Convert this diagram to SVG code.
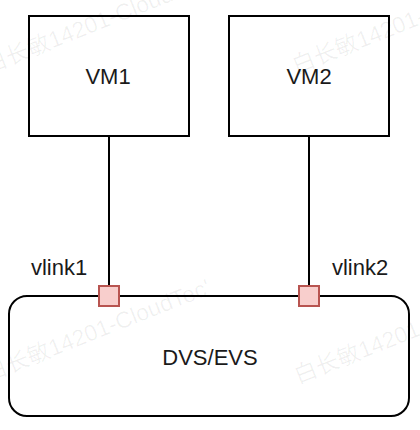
<svg xmlns="http://www.w3.org/2000/svg" width="420" height="430" viewBox="0 0 420 430">
<style>
.box{fill:#ffffff;stroke:#000000;stroke-width:2}
.lbl{font-family:"Liberation Sans",Arial,sans-serif;font-size:22px;fill:#1a1a1a}
.port{fill:#f8cecc;stroke:#b85450;stroke-width:2}
.wire{stroke:#000000;stroke-width:2;fill:none}
.wm{font-family:"Liberation Sans","Noto Sans CJK SC",sans-serif;font-size:23px;fill:#000000;fill-opacity:0.06}
</style>
<rect width="420" height="430" fill="#ffffff"/>
<g id="connectors">
<line class="wire" x1="109" y1="136" x2="109" y2="286"/>
<line class="wire" x1="309" y1="136" x2="309" y2="286"/>
</g>
<g id="dvs">
<rect class="box" x="9" y="296" width="400" height="120" rx="18" ry="18"/>
<text class="lbl" x="210" y="365" text-anchor="middle">DVS/EVS</text>
</g>
<g id="vm1">
<rect class="box" x="29" y="16" width="160" height="120"/>
<text class="lbl" x="108" y="84" text-anchor="middle">VM1</text>
</g>
<g id="vm2">
<rect class="box" x="229" y="16" width="160" height="120"/>
<text class="lbl" x="309" y="84" text-anchor="middle">VM2</text>
</g>
<g id="vlink1">
<rect class="port" x="99" y="286" width="20" height="20"/>
<text class="lbl" x="59" y="275" text-anchor="middle">vlink1</text>
</g>
<g id="vlink2">
<rect class="port" x="299" y="286" width="20" height="20"/>
<text class="lbl" x="360" y="275" text-anchor="middle">vlink2</text>
</g>
<g id="watermark">
<text class="wm" transform="translate(-12,74) rotate(-21.6)">白长敏14201-CloudTec'</text>
<text class="wm" transform="translate(296,74) rotate(-21.6)">白长敏14201-CloudTec'</text>
<text class="wm" transform="translate(-12,382) rotate(-21.6)">白长敏14201-CloudTec'</text>
<text class="wm" transform="translate(298,384) rotate(-21.6)">白长敏14201-CloudTec'</text>
</g>
</svg>
